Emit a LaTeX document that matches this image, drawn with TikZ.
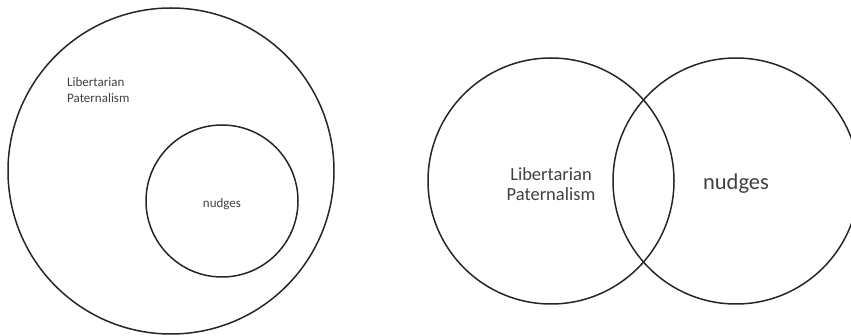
\documentclass[tikz,border=0pt]{standalone}
\usepackage{fontspec}
\setmainfont{Carlito}
\usepackage{tikz}
\usetikzlibrary{positioning}
\tikzset{
ring/.style={draw=black!85,circle,line width=1.5pt,inner sep=0pt},
smalllabel/.style={inner sep=0pt,text=black!75,font=\fontsize{13}{16}\selectfont},
biglabel/.style={inner sep=0pt,text=black!75,align=center,font=\fontsize{18.5}{20.5}\selectfont}
}
\begin{document}
\begin{tikzpicture}[x=1pt,y=-1pt]
\useasboundingbox (0,0) rectangle (851,336);
% nested view
\node[ring,minimum size=326pt] (lp) at (171,171) {};
\node[ring,minimum size=152pt] (nd) at (222,201) {};
\node[smalllabel,align=left,anchor=west] (lplabel) at (67,90) {Libertarian\\Paternalism};
\node[smalllabel] (ndlabel) at (nd.center) [yshift=-3pt] {nudges};

% overlapping view
\node[ring,minimum size=246pt] (lpb) at (551,181) {};
\node[ring,minimum size=246pt] (ndb) at (736,181) {};
\node[biglabel] (lpblabel) at (551,184) {Libertarian\\Paternalism};
\node[biglabel,font=\fontsize{22.5}{27}\selectfont] (ndblabel) at (736,184) {nudges};
\end{tikzpicture}
\end{document}
